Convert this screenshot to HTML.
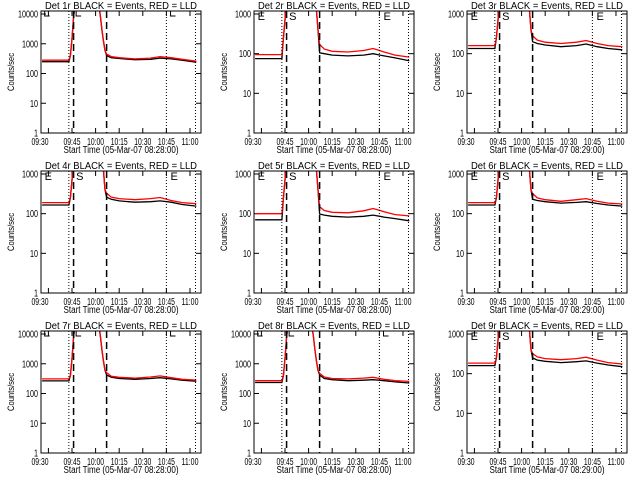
<!DOCTYPE html>
<html><head><meta charset="utf-8"><style>
html,body{margin:0;padding:0;background:#fff;}
svg{display:block;font-family:"Liberation Sans",sans-serif;}
</style></head><body>
<svg id="chart" width="640" height="480" viewBox="0 0 640 480" xmlns="http://www.w3.org/2000/svg">
<rect width="640" height="480" fill="#fff"/>
</svg>
<script>
// time (minutes after 09:30) of each sample
const times = [-4,13,14,15,16,17,32,33,34,35,36,37,40,45,55,65,71,78,85,94];
const rise10k = [400,1500,8000,20000];
const fall10k = [20000,9000,3000,1200,600];
const rise1k = [250,700,3000,20000];
const fall1k = [20000,20000,20000,1200,400];
const detNames = ["1r","2r","3r","4r","5r","6r","7r","8r","9r"];
const startTimes = ["08:28:00","08:28:00","08:29:00","08:28:00","08:28:00","08:29:00","08:28:00","08:28:00","08:29:00"];
const topDecade = [4,3,3,3,3,3,4,4,3];
const blackPre = [250,75,135,165,70,165,265,235,160];
const redPre = [280,95,160,190,100,190,310,270,185];
const blackPost = [
 [400,340,320,290,300,330,310,280,240],
 [105,100,92,88,92,100,88,78,66],
 [200,180,165,150,160,175,150,135,125],
 [260,230,210,195,200,210,195,170,155],
 [98,92,86,82,86,92,82,75,66],
 [230,215,200,185,192,200,180,165,155],
 [420,350,320,300,320,340,310,280,260],
 [420,320,290,270,280,290,270,245,225],
 [250,220,205,190,200,210,185,165,150]];
const redPost = [
 [450,370,340,310,330,370,340,300,260],
 [170,130,115,110,120,135,110,92,82],
 [280,220,195,180,195,215,180,160,150],
 [330,260,240,225,240,255,215,190,178],
 [150,120,108,105,118,135,112,95,88],
 [320,250,225,205,225,240,205,185,175],
 [500,380,350,330,360,390,340,300,280],
 [480,360,320,310,330,350,300,270,255],
 [320,265,240,225,240,260,220,190,175]];
const xTickTimes = [0,15,30,45,60,75,90];
const xTickLabels = ["09:30","09:45","10:00","10:15","10:30","10:45","11:00"];
const dottedTimes = [13,75,93.5];
const dashedTimes = [16,37];
const markerTimes = [-3,17,77];
const markerLabels = ["E","S","E"];

const NS="http://www.w3.org/2000/svg";
const svg=document.getElementById('chart');
function mk(tag,attrs,parent){const e=document.createElementNS(NS,tag);for(const k in attrs)e.setAttribute(k,attrs[k]);(parent||svg).appendChild(e);return e;}
const L=41,R=201,T=11,B=133;
function xs(t){return 72+(t-15)*1.573;}

for(let p=0;p<9;p++){
  const ox=(p%3)*213, oy=Math.floor(p/3)*160;
  const g=mk('g',{transform:`translate(${ox},${oy})`});
  
  
  const td=topDecade[p];
  const per=(B-14)/td;
  const ys=v=>B-Math.log10(v)*per;
  const cp=mk('clipPath',{id:'cp'+p},g);
  mk('rect',{x:L,y:T,width:R-L,height:B-T},cp);
  const tt=mk('text',{x:121,y:9,'font-size':10,'text-anchor':'middle',textLength:152,lengthAdjust:'spacingAndGlyphs'},g);
  tt.textContent=`Det ${detNames[p]} BLACK = Events, RED = LLD`;
  
  
  const yl=mk('text',{x:0,y:0,'font-size':9,'text-anchor':'middle',textLength:38,lengthAdjust:'spacingAndGlyphs',transform:'translate(14,72) rotate(-90)'},g);
  yl.textContent='Counts/sec';
  
  
  const xl=mk('text',{x:121,y:153,'font-size':10,'text-anchor':'middle',textLength:115,lengthAdjust:'spacingAndGlyphs'},g);
  xl.textContent=`Start Time (05-Mar-07 ${startTimes[p]})`;
  
  
  for(let d=0;d<=td;d++){
    const y=ys(Math.pow(10,d));
    mk('line',{x1:L,x2:L+5,y1:y,y2:y,stroke:'#000'},g);
    mk('line',{x1:R,x2:R-5,y1:y,y2:y,stroke:'#000'},g);
    const s=String(Math.pow(10,d));
    const lt=mk('text',{x:L-3,y:y+3.5,'font-size':10,'text-anchor':'end',textLength:s.length*4,lengthAdjust:'spacingAndGlyphs'},g);
    lt.textContent=s;
    
    
  }
  xTickTimes.forEach((t,i)=>{
    const x=xs(t);
    if(x>=L&&x<=R){mk('line',{x1:x,x2:x,y1:B,y2:B-5,stroke:'#000'},g);mk('line',{x1:x,x2:x,y1:T,y2:T+5,stroke:'#000'},g);}
    const lx=(i===0)?40:x;
    const lt=mk('text',{x:lx,y:145,'font-size':10,'text-anchor':'middle',textLength:17,lengthAdjust:'spacingAndGlyphs'},g);
    lt.textContent=xTickLabels[i];
    
    
  });
  const rise=td===4?rise10k:rise1k, fall=td===4?fall10k:fall1k;
  const bVals=[blackPre[p],blackPre[p]].concat(rise,fall,blackPost[p]);
  const rVals=[redPre[p],redPre[p]].concat(rise,fall,redPost[p]);
  const pts=vals=>vals.map((v,i)=>xs(times[i]).toFixed(1)+','+ys(v).toFixed(1)).join(' ');
  const bl=mk('polyline',{points:pts(bVals),fill:'none',stroke:'#000','stroke-width':1.3,'clip-path':`url(#cp${p})`},g);
  
  
  const rl=mk('polyline',{points:pts(rVals),fill:'none',stroke:'#f00','stroke-width':1.3,'clip-path':`url(#cp${p})`},g);
  
  
  dottedTimes.forEach(t=>{const l=mk('line',{x1:xs(t),x2:xs(t),y1:T,y2:B,stroke:'#000','stroke-dasharray':'1,2'},g);
    });
  dashedTimes.forEach(t=>{const l=mk('line',{x1:xs(t),x2:xs(t),y1:T,y2:B,stroke:'#000','stroke-width':1.5,'stroke-dasharray':'7,4'},g);
    });
  markerTimes.forEach((t,i)=>{
    if(td===4){
      const x=xs(t)+1;
      mk('path',{d:`M${x} ${T} V${T+5} H${x+5}`,fill:'none',stroke:'#000'},g);
    } else {
      const m=mk('text',{x:xs(t)+1,y:T+9,'font-size':11},g);
      m.textContent=markerLabels[i];
      
      
    }
  });
  const box=mk('rect',{x:L,y:T,width:R-L,height:B-T,fill:'none',stroke:'#000'},g);
  
  
}
</script>
</body></html>
